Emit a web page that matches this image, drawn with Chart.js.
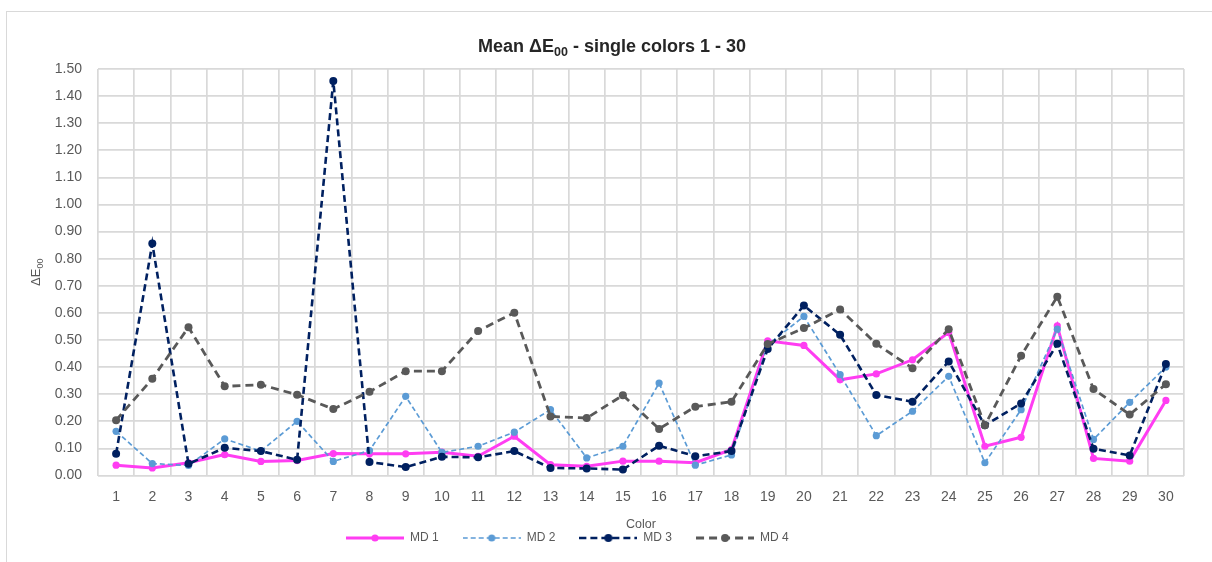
<!DOCTYPE html>
<html>
<head>
<meta charset="utf-8">
<script src="https://cdn.jsdelivr.net/npm/chart.js@4.4.1/dist/chart.umd.min.js"></script>
<style>
  html, body { margin: 0; padding: 0; background: #ffffff; overflow: hidden; }
  #wrap { position: relative; width: 1212px; height: 562px; overflow: hidden; }
  #frame { position: absolute; left: 6px; top: 11px; width: 1300px; height: 700px;
           border: 1.5px solid #d9d9d9; pointer-events: none; }
  canvas { position: absolute; left: 0; top: 0; }
</style>
</head>
<body>
<div id="wrap">
  <div id="frame"></div>
  <canvas id="c" width="1212" height="562"></canvas>
</div>
<script>
const categories = ['1','2','3','4','5','6','7','8','9','10','11','12','13','14','15','16','17','18','19','20','21','22','23','24','25','26','27','28','29','30'];
const seriesNames = ['MD 1', 'MD 2', 'MD 3', 'MD 4'];
const md1 = [0.038, 0.028, 0.047, 0.077, 0.052, 0.055, 0.081, 0.080, 0.080, 0.086, 0.071, 0.145, 0.040, 0.034, 0.053, 0.053, 0.047, 0.096, 0.497, 0.480, 0.353, 0.375, 0.427, 0.528, 0.108, 0.141, 0.552, 0.063, 0.053, 0.277];
const md2 = [0.163, 0.044, 0.037, 0.135, 0.090, 0.200, 0.052, 0.092, 0.292, 0.085, 0.108, 0.160, 0.243, 0.065, 0.108, 0.341, 0.038, 0.076, 0.482, 0.587, 0.372, 0.147, 0.237, 0.366, 0.047, 0.243, 0.540, 0.133, 0.270, 0.400];
const md3 = [0.080, 0.856, 0.043, 0.102, 0.090, 0.058, 1.456, 0.050, 0.031, 0.069, 0.067, 0.090, 0.028, 0.026, 0.022, 0.110, 0.071, 0.090, 0.467, 0.627, 0.519, 0.297, 0.272, 0.421, 0.185, 0.266, 0.486, 0.099, 0.074, 0.411];
const md4 = [0.204, 0.357, 0.547, 0.329, 0.335, 0.298, 0.245, 0.309, 0.385, 0.385, 0.533, 0.601, 0.218, 0.212, 0.296, 0.172, 0.254, 0.272, 0.485, 0.544, 0.613, 0.486, 0.396, 0.540, 0.185, 0.442, 0.660, 0.319, 0.225, 0.337];
const yTickValues = [0.0, 0.1, 0.2, 0.3, 0.4, 0.5, 0.6, 0.7, 0.8, 0.9, 1.0, 1.1, 1.2, 1.3, 1.4, 1.5];

// Title and axis title pieces: [text, isSubscript]
const titleParts = [['Mean \u0394E', false], ['00', true], [' - single colors 1 - 30', false]];
const yTitleParts = [['\u0394E', false], ['00', true]];
const xTitle = 'Color';

const FONT = "'Liberation Sans', Arial, sans-serif";

const styles = [
  { color: '#ff3df2', width: 3,   dash: [],     r: 3.6 },
  { color: '#5b9bd5', width: 1.7, dash: [5, 3], r: 3.6 },
  { color: '#002060', width: 2.6, dash: [7, 4], r: 4.0 },
  { color: '#595959', width: 2.8, dash: [8, 5], r: 4.0 }
];
const values = [md1, md2, md3, md4];

function legendImage(s) {
  const c = document.createElement('canvas');
  c.width = 58; c.height = 12;
  const g = c.getContext('2d');
  g.strokeStyle = s.color;
  g.lineWidth = s.width;
  g.setLineDash(s.dash);
  g.beginPath();
  g.moveTo(0, 6); g.lineTo(58, 6);
  g.stroke();
  g.setLineDash([]);
  g.fillStyle = s.color;
  g.beginPath();
  g.arc(29, 6, s.r, 0, Math.PI * 2);
  g.fill();
  return c;
}
const legendImgs = styles.map(legendImage);

const datasets = values.map((v, i) => ({
  label: seriesNames[i],
  data: v,
  borderColor: styles[i].color,
  backgroundColor: styles[i].color,
  borderWidth: styles[i].width,
  borderDash: styles[i].dash,
  pointRadius: styles[i].r,
  pointHoverRadius: styles[i].r,
  pointBorderWidth: 0,
  pointBackgroundColor: styles[i].color,
  tension: 0,
  order: 4 - i
}));

function drawParts(ctx, parts, cx, baseY, size, subSize, subShift, weight, color) {
  const fonts = parts.map(p => (weight ? weight + ' ' : '') + (p[1] ? subSize : size) + 'px ' + FONT);
  let total = 0;
  const widths = parts.map((p, i) => { ctx.font = fonts[i]; const w = ctx.measureText(p[0]).width; total += w; return w; });
  let x = cx - total / 2;
  ctx.fillStyle = color;
  ctx.textAlign = 'left';
  ctx.textBaseline = 'alphabetic';
  parts.forEach((p, i) => {
    ctx.font = fonts[i];
    ctx.fillText(p[0], x, baseY + (p[1] ? subShift : 0));
    x += widths[i];
  });
}

const customText = {
  id: 'customText',
  afterLayout(chart) {
    const lg = chart.legend;
    lg.left = 322;
    lg.right = 1212;
    lg.top = 508;
    lg.bottom = 562;
    lg.height = 54;
  },
  afterDraw(chart) {
    const ctx = chart.ctx;
    ctx.save();
    // chart title
    drawParts(ctx, titleParts, 612, 51.7, 18, 12.5, 3.8, 'bold', '#262626');
    // y-axis title, rotated
    const ca = chart.chartArea;
    ctx.translate(35, (ca.top + ca.bottom) / 2);
    ctx.rotate(-Math.PI / 2);
    drawParts(ctx, yTitleParts, 0, 4.5, 13, 9, 3, '', '#595959');
    ctx.restore();
  }
};

new Chart(document.getElementById('c'), {
  type: 'line',
  data: { labels: categories, datasets },
  plugins: [customText],
  options: {
    responsive: false,
    animation: false,
    layout: { padding: { top: 12, left: 8, right: 28, bottom: 0 } },
    plugins: {
      title: {
        display: true,
        text: ' ',
        font: { family: FONT, size: 18, weight: 'bold' },
        padding: { top: 22.7, bottom: 12.7 }
      },
      legend: {
        display: true,
        position: 'bottom',
        align: 'start',
        maxHeight: 30,
        labels: {
          usePointStyle: true,
          pointStyleWidth: 58,
          padding: 24,
          color: '#595959',
          font: { family: FONT, size: 12 },
          generateLabels: () => seriesNames.map((n, i) => ({
            text: n,
            pointStyle: legendImgs[i],
            fillStyle: styles[i].color,
            strokeStyle: styles[i].color,
            lineWidth: 0,
            hidden: false,
            datasetIndex: i,
            fontColor: '#595959'
          }))
        }
      },
      tooltip: { enabled: false }
    },
    scales: {
      x: {
        type: 'category',
        offset: true,
        afterFit(scale) { scale.height = 56.5; },
        grid: { display: true, offset: true, color: '#d9d9d9', lineWidth: 1.7, drawTicks: false },
        border: { display: false },
        ticks: {
          color: '#595959',
          padding: 13.6,
          maxRotation: 0,
          autoSkip: false,
          font: { family: FONT, size: 14 }
        },
        title: {
          display: true,
          text: xTitle,
          color: '#595959',
          font: { family: FONT, size: 12.5 },
          padding: { top: 0, bottom: -0.5 }
        }
      },
      y: {
        type: 'linear',
        min: 0,
        max: 1.5,
        afterFit(scale) { scale.width = 90; },
        afterBuildTicks(scale) { scale.ticks = yTickValues.map(v => ({ value: v })); },
        grid: { display: true, color: '#d9d9d9', lineWidth: 1.7, drawTicks: false },
        border: { display: false },
        ticks: {
          color: '#595959',
          padding: 16,
          font: { family: FONT, size: 14 },
          callback: (v) => Number(v).toFixed(2)
        },
        title: { display: false }
      }
    }
  }
});
</script>
</body>
</html>
